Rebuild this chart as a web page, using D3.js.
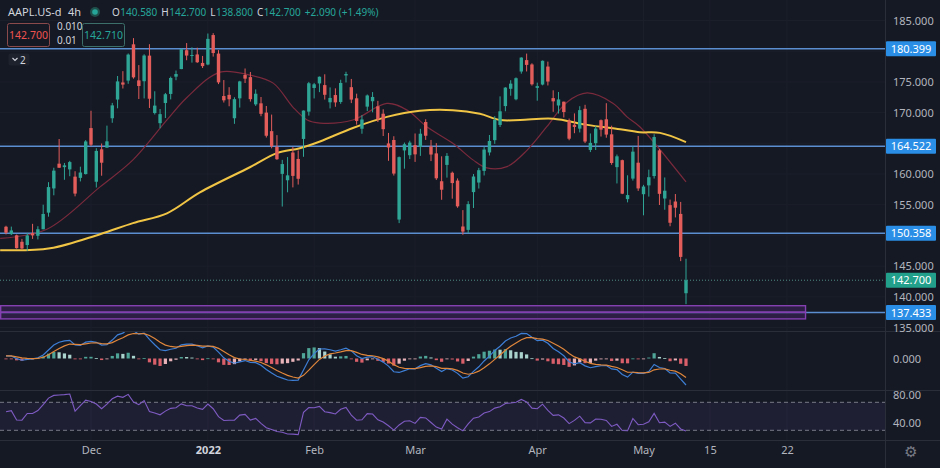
<!DOCTYPE html>
<html>
<head>
<meta charset="utf-8">
<script src="https://cdn.jsdelivr.net/npm/d3@7"></script>
<style>
  html, body { margin: 0; padding: 0; background: #151924; }
  svg { display: block; font-family: "Noto Sans", "DejaVu Sans", sans-serif; }
</style>
</head>
<body>
<svg id="chart" width="940" height="468"></svg>
<script>
// daily bars, 8 Nov 2021 .. 12 May 2022
var open = [151.41,150.20,150.02,148.96,148.43,150.37,149.94,151.00,153.71,157.65,161.68,161.12,160.75,159.57,159.37,159.99,
  167.48,158.74,164.02,164.29,169.08,172.13,174.91,175.21,181.12,175.25,175.11,179.28,169.93,168.28,171.56,173.04,175.85,177.09,180.16,179.33,179.47,178.09,
  177.83,182.63,179.61,172.70,172.89,169.08,172.32,176.12,175.78,171.34,171.51,170.00,166.98,164.42,160.02,158.98,163.50,162.45,165.71,170.16,
  174.01,174.75,174.48,171.68,172.86,171.73,176.05,174.14,172.33,167.37,170.97,171.85,171.03,169.82,164.98,165.54,152.58,163.84,163.06,
  164.70,164.39,168.47,164.49,163.36,158.82,161.48,160.20,158.93,151.45,150.90,157.05,158.61,160.51,163.51,165.51,167.99,171.06,173.88,172.17,176.69,178.55,177.84,
  174.03,174.57,177.50,172.36,171.16,171.78,168.71,168.02,167.39,170.62,163.92,165.02,168.76,168.91,166.46,161.12,162.25,155.91,159.25,161.84,
  156.71,158.15,159.67,163.85,156.01,154.93,155.52,153.50,140.58];
var high = [151.57,151.43,150.13,149.43,150.40,151.88,151.49,155.00,158.67,161.02,165.70,161.80,162.14,160.45,161.19,165.52,
  170.30,164.20,164.96,167.88,171.58,175.96,176.75,179.63,182.13,177.74,179.50,181.14,173.47,170.58,173.20,175.86,176.85,180.42,181.33,180.63,180.57,179.23,
  182.88,182.94,180.17,175.30,174.14,172.50,175.18,177.18,176.62,173.78,172.54,171.08,169.68,166.33,162.30,162.76,164.39,163.84,170.35,175.00,
  174.84,175.88,176.24,174.10,173.95,175.35,176.65,175.48,173.08,169.58,172.95,173.34,171.91,170.54,166.69,166.15,162.85,165.12,165.42,
  166.60,167.36,168.91,165.55,165.02,162.88,163.41,160.39,159.28,154.12,155.57,160.00,161.00,164.48,166.35,169.42,172.64,174.14,175.28,175.73,179.01,179.61,178.03,
  174.88,178.49,178.30,173.63,173.36,171.78,169.03,169.87,171.04,171.27,166.60,167.82,168.88,171.53,167.87,163.17,162.34,159.79,164.52,166.20,
  158.23,160.71,166.48,164.08,159.44,155.83,156.74,155.45,146.20];
var low = [150.16,150.06,147.85,147.68,147.48,149.43,149.34,150.99,153.05,156.53,161.00,159.06,159.64,156.36,158.79,159.92,
  164.53,157.80,159.72,164.28,168.34,170.70,173.92,174.69,175.53,172.21,172.31,170.75,169.69,167.46,169.12,172.15,175.27,177.07,178.53,178.14,178.09,177.26,
  177.71,179.12,174.64,171.64,171.03,168.17,170.82,174.82,171.79,171.09,169.41,165.94,164.18,162.30,154.70,157.02,157.82,158.28,162.80,169.51,
  172.31,173.33,172.12,170.68,170.95,171.43,174.90,171.55,168.04,166.56,170.25,170.05,168.47,166.19,162.15,159.75,152.00,160.87,162.43,
  161.97,162.95,165.55,162.10,159.04,155.80,159.41,155.98,154.50,150.10,150.38,154.46,157.63,159.76,163.01,164.91,167.65,170.21,172.75,172.00,176.34,176.70,174.40,
  171.94,174.44,174.42,170.13,169.85,169.20,165.50,166.64,166.77,165.04,163.57,163.91,166.10,165.91,161.50,158.46,156.72,155.38,158.93,157.25,
  153.27,156.32,159.26,154.95,154.18,151.49,152.93,145.81,138.80];
var close = [150.44,150.81,147.92,147.87,149.99,150.00,151.00,153.49,157.87,160.55,161.02,161.41,161.94,156.81,160.24,165.30,
  164.77,163.76,161.84,165.32,171.18,175.08,174.56,179.45,175.74,174.33,179.30,172.26,171.14,169.75,172.99,175.64,176.28,180.33,179.29,179.38,178.20,177.57,
  182.01,179.70,174.92,172.00,172.17,172.19,175.08,175.53,172.19,173.07,169.80,166.23,164.51,162.41,161.62,159.78,159.69,159.22,170.33,174.78,
  174.61,175.84,172.90,172.39,171.66,174.83,176.28,172.12,168.64,168.88,172.79,172.55,168.88,167.30,164.32,160.07,162.74,164.85,165.12,
  163.20,166.56,166.23,163.17,159.30,157.44,162.95,158.52,154.73,150.62,155.09,159.59,160.62,163.98,165.38,168.82,170.21,174.07,174.72,175.60,178.96,177.77,174.61,
  174.31,178.44,175.06,171.83,172.14,170.09,165.75,167.66,170.40,165.29,165.07,167.40,167.23,166.42,161.79,162.88,156.80,156.57,163.64,157.65,
  157.96,159.48,166.02,156.77,157.28,152.06,154.51,146.50,142.70];
// closes before the first visible bar, only used to warm up the indicators
var warmupClose = [148.69,148.64,149.32,148.85,152.57,149.80,148.96,150.02,151.49,150.96,151.28];

// moving averages (bar index, price)
var maSlowIdx = [-1.1,8.3,17.7,23.9,30.3,36.5,45.9,51,55.3,59.1,65.3,71.7,77.9,84.1,89.2,93,96.8,103,109.4,115.6,119.3,123.1,128];
var maSlowVal = [147.6,147.9,150.2,152.0,153.6,157.0,161.1,163.4,164.2,165.3,167.5,169.3,170.3,170.4,169.8,168.8,168.8,169.0,168.0,167.3,166.8,166.7,165.2];
var maFastIdx = [-1.1,7.7,17.7,23.9,30.3,34.1,40.3,45.9,50.3,54.0,56.7,59.1,65.3,71.7,75.5,79.2,84.1,87.9,90.5,94.3,98.1,101.8,105.6,109.4,114.3,116.9,119.3,128];
var maFastVal = [149.5,151.0,157.9,162.3,168.8,172.5,176.6,176.1,174.8,170.9,168.8,168.3,168.8,171.5,170.4,167.7,165.0,162.3,161.0,161.2,163.9,167.7,171.7,173.2,171.5,169.3,167.7,158.7];

var levels = [180.399, 164.522, 150.358, 137.433];
var zoneTop = 138.55, zoneMid = 137.48, zoneBottom = 136.4, zoneEnd = 150.5;
var lastPrice = 142.70;

var priceTicks = [135,140,145,150,155,160,165,170,175,180,185];
var timeTickIdx = [16,38,58,77,100,120,132.5,147];
var timeTickLabels = ["Dec","2022","Feb","Mar","Apr","May","15","22"];

var svg = d3.select("#chart");
var bg = "#151924", gridC = "#1b1f2a", sepC = "#2a2e39", axisText = "#b2b5be";
var upC = "#2fa596", downC = "#e35d5b";
var plotRight = 885;

svg.append("rect").attr("width", 940).attr("height", 468).attr("fill", bg);

var x = d3.scaleLinear().domain([0, 128]).range([6, 686]);
var y = d3.scaleLinear().domain([135, 185]).range([327.5, 20.5]);

var defs = svg.append("defs");
defs.append("clipPath").attr("id", "mainClip").append("rect").attr("x", 0).attr("y", 0).attr("width", plotRight).attr("height", 331);
defs.append("clipPath").attr("id", "macdClip").append("rect").attr("x", 0).attr("y", 332).attr("width", plotRight).attr("height", 58);
defs.append("clipPath").attr("id", "rsiClip").append("rect").attr("x", 0).attr("y", 391).attr("width", plotRight).attr("height", 49);

// grid
var grid = svg.append("g");
grid.selectAll(".hg").data(priceTicks).enter().append("line")
  .attr("x1", 0).attr("x2", plotRight).attr("y1", d => y(d)).attr("y2", d => y(d))
  .attr("stroke", gridC).attr("stroke-width", 1);
grid.selectAll(".vg").data(timeTickIdx).enter().append("line")
  .attr("x1", d => x(d)).attr("x2", d => x(d)).attr("y1", 0).attr("y2", 440)
  .attr("stroke", gridC).attr("stroke-width", 1);

var main = svg.append("g").attr("clip-path", "url(#mainClip)");

// key levels
main.selectAll(".lvl").data(levels).enter().append("line")
  .attr("x1", 0).attr("x2", plotRight).attr("y1", d => y(d)).attr("y2", d => y(d))
  .attr("stroke", "#5b8ed0").attr("stroke-width", 1.5);

// last price dotted
main.append("line").attr("x1", 0).attr("x2", plotRight)
  .attr("y1", y(lastPrice)).attr("y2", y(lastPrice))
  .attr("stroke", "#5fa89c").attr("stroke-width", 1).attr("stroke-dasharray", "1,2").attr("opacity", 0.8);

// purple zone
[[zoneTop, zoneMid], [zoneMid, zoneBottom]].forEach(function(p) {
  main.append("rect").attr("x", x(-1.0)).attr("y", y(p[0]))
    .attr("width", x(zoneEnd) - x(-1.0)).attr("height", y(p[1]) - y(p[0]))
    .attr("fill", "rgba(128,50,180,0.22)").attr("stroke", "#8440b0").attr("stroke-width", 1.4);
});

// moving averages
var maLine = d3.line().x(d => x(d[0])).y(d => y(d[1])).curve(d3.curveCatmullRom);
main.append("path").datum(maFastIdx.map((v, i) => [v, maFastVal[i]]))
  .attr("d", maLine).attr("fill", "none").attr("stroke", "#7a2a3c").attr("stroke-width", 1.2);
main.append("path").datum(maSlowIdx.map((v, i) => [v, maSlowVal[i]]))
  .attr("d", maLine).attr("fill", "none").attr("stroke", "#f0c445").attr("stroke-width", 2);

// candles
var bw = 3.4;
var candles = main.selectAll(".c").data(close).enter().append("g");
candles.append("line")
  .attr("x1", (d, i) => x(i)).attr("x2", (d, i) => x(i))
  .attr("y1", (d, i) => y(high[i])).attr("y2", (d, i) => y(low[i]))
  .attr("stroke", (d, i) => d >= open[i] ? upC : downC).attr("stroke-width", 1);
candles.append("rect")
  .attr("x", (d, i) => x(i) - bw / 2)
  .attr("y", (d, i) => y(Math.max(d, open[i])))
  .attr("width", bw)
  .attr("height", (d, i) => Math.max(1, Math.abs(y(d) - y(open[i]))))
  .attr("fill", (d, i) => d >= open[i] ? upC : downC);

// ---- indicators ----
var allClose = warmupClose.concat(close);
var off = warmupClose.length;
function ema(src, n) {
  var k = 2 / (n + 1), prev = src[0];
  return src.map(function(v, i) { prev = i === 0 ? v : v * k + prev * (1 - k); return prev; });
}
var emaFast = ema(allClose, 6), emaSlow = ema(allClose, 13);
var macdAll = emaFast.map((v, i) => v - emaSlow[i]);
var sigAll = ema(macdAll, 5);
var macd = macdAll.slice(off), signal = sigAll.slice(off);
var hist = macd.map((v, i) => v - signal[i]);
var histPrev = macdAll.map((v, i) => v - sigAll[i]).slice(off - 1);

var mMin = d3.min(macd.concat(signal));
// zero sits a bit above the middle of the pane, as in the reference
var ym = d3.scaleLinear().domain([mMin, -mMin * 0.66]).range([385, 341]);
var macdG = svg.append("g").attr("clip-path", "url(#macdClip)");
macdG.selectAll(".h").data(hist).enter().append("rect")
  .attr("x", (d, i) => x(i) - 1.6).attr("width", 3.2)
  .attr("y", d => Math.min(ym(d), ym(0))).attr("height", d => Math.max(0.8, Math.abs(ym(d) - ym(0))))
  .attr("fill", function(d, i) {
    var p = histPrev[i];
    if (d >= 0) return d >= p ? "#4fa597" : "#a9d3cc";
    return d < p ? "#d9606a" : "#e8b3b9";
  });
var mLine = d3.line().x((d, i) => x(i)).y(d => ym(d));
macdG.append("path").datum(macd).attr("d", mLine).attr("fill", "none").attr("stroke", "#3e7fd6").attr("stroke-width", 1.2);
macdG.append("path").datum(signal).attr("d", mLine).attr("fill", "none").attr("stroke", "#e0873c").attr("stroke-width", 1.2);

// RSI (Wilder smoothing on the daily closes)
var n = 10, ag = 0, al = 0, rsiAll = [];
for (var i = 1; i < allClose.length; i++) {
  var ch = allClose[i] - allClose[i - 1];
  var g = Math.max(ch, 0), l = Math.max(-ch, 0);
  if (i <= n) { ag += g / n; al += l / n; rsiAll[i] = null; if (i < n) continue; }
  else { ag = (ag * (n - 1) + g) / n; al = (al * (n - 1) + l) / n; }
  rsiAll[i] = al === 0 ? 100 : 100 - 100 / (1 + ag / al);
}
var rsi = rsiAll.slice(off);
var yr = d3.scaleLinear().domain([30, 70]).range([430.3, 402.3]);
var rsiG = svg.append("g").attr("clip-path", "url(#rsiClip)");
rsiG.append("rect").attr("x", 0).attr("width", plotRight).attr("y", yr(70)).attr("height", yr(30) - yr(70))
  .attr("fill", "rgba(126,87,194,0.1)");
[70, 30].forEach(function(v) {
  rsiG.append("line").attr("x1", 0).attr("x2", plotRight).attr("y1", yr(v)).attr("y2", yr(v))
    .attr("stroke", "#787b86").attr("stroke-dasharray", "4,3").attr("stroke-width", 1);
});
rsiG.append("path").datum(rsi).attr("d", d3.line().defined(d => d != null).x((d, i) => x(i)).y(d => yr(d)))
  .attr("fill", "none").attr("stroke", "#7e5bc2").attr("stroke-width", 1.1);

// separators
svg.append("line").attr("x1", 0).attr("x2", 940).attr("y1", 331.5).attr("y2", 331.5).attr("stroke", sepC);
svg.append("line").attr("x1", 0).attr("x2", 940).attr("y1", 390.5).attr("y2", 390.5).attr("stroke", sepC);
svg.append("line").attr("x1", 0).attr("x2", 940).attr("y1", 440.5).attr("y2", 440.5).attr("stroke", sepC);
svg.append("line").attr("x1", plotRight + 0.5).attr("x2", plotRight + 0.5).attr("y1", 0).attr("y2", 468).attr("stroke", sepC);

// axes; price labels hidden behind a level badge are left out
var labelTicks = priceTicks.filter(t => !levels.concat([lastPrice]).some(v => Math.abs(y(v) - y(t)) < 10));
svg.append("g").attr("transform", "translate(" + plotRight + ",0)")
  .call(d3.axisRight(y).tickValues(labelTicks).tickSize(0).tickPadding(8).tickFormat(d3.format(".3f")));
svg.append("g").attr("transform", "translate(" + plotRight + ",0)")
  .call(d3.axisRight(ym).tickValues([0]).tickSize(0).tickPadding(8).tickFormat(d3.format(".3f")));
svg.append("g").attr("transform", "translate(" + plotRight + ",0)")
  .call(d3.axisRight(yr).tickValues([40, 80]).tickSize(0).tickPadding(8).tickFormat(d3.format(".2f")));
svg.append("g").attr("transform", "translate(0,441)")
  .call(d3.axisBottom(x).tickValues(timeTickIdx).tickSize(0).tickPadding(5).tickFormat((d, i) => timeTickLabels[i]));
svg.selectAll(".domain").remove();
svg.selectAll(".tick text").attr("fill", axisText).attr("font-size", 11).attr("font-family", "Noto Sans, sans-serif");
svg.selectAll(".tick text").filter(function() { return this.textContent === "2022"; })
  .attr("font-weight", "bold").attr("fill", "#d1d4dc");

// level badges
var badges = svg.append("g");
levels.forEach(function(v) {
  badges.append("rect").attr("x", plotRight + 1).attr("y", y(v) - 7.5).attr("width", 50).attr("height", 15)
    .attr("rx", 1).attr("fill", "#2a8ee6");
  badges.append("text").attr("x", plotRight + 26).attr("y", y(v) + 4).attr("text-anchor", "middle")
    .attr("font-size", 11).attr("fill", "#ffffff").text(d3.format(".3f")(v));
});
badges.append("rect").attr("x", plotRight + 1).attr("y", y(lastPrice) - 7.5).attr("width", 50).attr("height", 15)
  .attr("rx", 1).attr("fill", "#22a08b");
badges.append("text").attr("x", plotRight + 26).attr("y", y(lastPrice) + 4).attr("text-anchor", "middle")
  .attr("font-size", 11).attr("fill", "#ffffff").text(d3.format(".3f")(lastPrice));

// gear
svg.append("text").attr("x", 911).attr("y", 457).attr("text-anchor", "middle").attr("font-size", 15)
  .attr("font-family", "DejaVu Sans").attr("fill", "#787b86").text("\u2699");

// header
var hd = svg.append("g");
var sym = hd.append("text").attr("x", 8).attr("y", 16).attr("fill", "#d1d4dc").attr("font-size", 11)
  .text("AAPL.US-d");
var symEnd = 8 + sym.node().getComputedTextLength();
hd.append("text").attr("x", Math.max(68, symEnd + 6)).attr("y", 16).attr("fill", "#d1d4dc").attr("font-size", 11)
  .text("4h");
hd.append("circle").attr("cx", 95).attr("cy", 12).attr("r", 5).attr("fill", "#1f4f4a");
hd.append("circle").attr("cx", 95).attr("cy", 12).attr("r", 2.8).attr("fill", "#26a69a");
var ohlcLabels = ["O", "H", "L", "C"];
var ohlcVals = ["140.580", "142.700", "138.800", "142.700"];
// each piece is placed right after the previous one, at its natural width
var cx = 112;
function piece(str, col) {
  var t = hd.append("text").attr("x", cx).attr("y", 16).attr("font-size", 10).attr("fill", col).text(str);
  cx += t.node().getComputedTextLength();
}
ohlcLabels.forEach(function(l, i) {
  piece(l, "#d1d4dc");
  cx += 0.5;
  piece(ohlcVals[i], "#26a69a");
  cx += 4;
});
piece("+2.090 (+1.49%)", "#26a69a");

hd.append("rect").attr("x", 7.5).attr("y", 23.5).attr("width", 42).attr("height", 23).attr("rx", 2)
  .attr("fill", "#151924").attr("stroke", "#8a4a4c");
hd.append("text").attr("x", 28.5).attr("y", 39).attr("text-anchor", "middle").attr("font-size", 10.5)
  .attr("fill", "#ef5350").text("142.700");
hd.append("text").attr("x", 57).attr("y", 30).attr("font-size", 10).attr("fill", "#d1d4dc").text("0.010");
hd.append("text").attr("x", 57).attr("y", 44).attr("font-size", 10).attr("fill", "#d1d4dc").text("0.01");
hd.append("rect").attr("x", 82.5).attr("y", 23.5).attr("width", 42).attr("height", 23).attr("rx", 2)
  .attr("fill", "#151924").attr("stroke", "#3c6e6a");
hd.append("text").attr("x", 103.5).attr("y", 39).attr("text-anchor", "middle").attr("font-size", 10.5)
  .attr("fill", "#26a69a").text("142.710");

hd.append("rect").attr("x", 8.5).attr("y", 53.5).attr("width", 21).attr("height", 12).attr("rx", 2)
  .attr("fill", "#1e222d");
hd.append("path").attr("d", "M12.5,58 L15,60.5 L17.5,58").attr("fill", "none").attr("stroke", "#d1d4dc").attr("stroke-width", 1.1);
hd.append("text").attr("x", 20).attr("y", 63.5).attr("font-size", 10).attr("fill", "#d1d4dc").text("2");
</script>
</body>
</html>
